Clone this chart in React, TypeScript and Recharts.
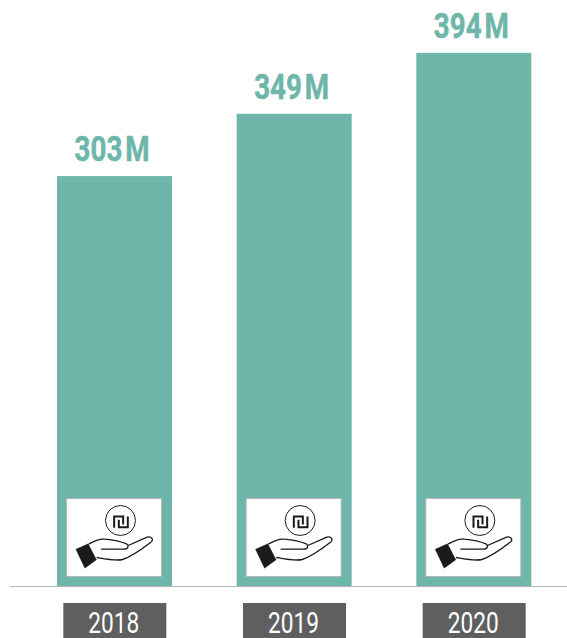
import React from 'react';
import { BarChart, Bar, XAxis, YAxis, LabelList, ReferenceLine } from 'recharts';

const years = ['2018', '2019', '2020'];
const amounts = [303, 349, 394];

const BAR_COLOR = '#6db6a9';
const data = years.map((year, i) => ({ year, amount: amounts[i] }));

// Bar with the hand and coin icon card at its foot
const BarWithIcon = (props: any) => {
  const { x, y, width, height } = props;
  const left = x + 9.5;
  const top = y + height - 88;
  return (
    <g>
      <rect x={x} y={y} width={width} height={height} fill={BAR_COLOR} />
      <rect x={left} y={top} width={95} height={78} fill="#fff" stroke="#b5b5b5" strokeWidth={1} />
      {/* drawn at 3x, then scaled down */}
      <g transform={`translate(${left},${top}) scale(0.3333) translate(-50,-56)`} fill="none" stroke="#1a1a1a">
        <circle cx={212} cy={122} r={45} strokeWidth={3} />
        <path d="M193 144 V110 H220 V134 M234 110 V142 H207 V120" strokeWidth={6} />
        <path d="M78 208 L115 192 L140 240 L105 265 Z" fill="#1a1a1a" />
        <path
          d="M118 192 C135 182 150 176 165 178 C185 180 215 186 230 192 C238 198 236 208 222 208 H155 M235 197 L292 172 C305 168 314 180 302 188 C280 205 240 232 218 239 C200 244 170 238 142 233"
          strokeWidth={4}
          strokeLinejoin="round"
          strokeLinecap="round"
        />
      </g>
    </g>
  );
};

const AmountLabel = (props: any) => {
  const { x, y, width, value } = props;
  return (
    <text
      x={x + width / 2 - 2.5}
      y={y - 15}
      textAnchor="middle"
      fill={BAR_COLOR}
      stroke={BAR_COLOR}
      strokeWidth={0.5}
      fontFamily="Roboto, sans-serif"
      fontWeight={700}
      fontSize={35}
      textLength={75}
      lengthAdjust="spacingAndGlyphs"
    >
      {`${value}\u200AM`}
    </text>
  );
};

const YearTick = (props: any) => {
  const { x, payload } = props;
  return (
    <g>
      <rect x={x - 51.5} y={603} width={103} height={35} fill="#5f5f5f" />
      <text
        x={x - 1}
        y={633}
        textAnchor="middle"
        fill="#fff"
        fontFamily="Roboto, sans-serif"
        fontSize={30}
        textLength={51}
        lengthAdjust="spacingAndGlyphs"
      >
        {payload.value}
      </text>
    </g>
  );
};

export default function App() {
  return (
    <div style={{ position: 'absolute', left: 0, top: 0, width: 567, height: 638, background: '#fff' }}>
      <BarChart
        width={567}
        height={638}
        data={data}
        margin={{ top: 0, right: 0, bottom: 0, left: 10 }}
        barCategoryGap={0}
      >
        <XAxis
          dataKey="year"
          height={51.5}
          interval={0}
          axisLine={false}
          tickLine={false}
          tick={<YearTick />}
          padding={{ left: 15, right: 3 }}
        />
        <YAxis hide domain={[0, 433]} />
        <ReferenceLine y={0} stroke="#b5b5b5" strokeWidth={1} />
        <Bar dataKey="amount" barSize={115} shape={<BarWithIcon />} isAnimationActive={false}>
          <LabelList dataKey="amount" content={<AmountLabel />} />
        </Bar>
      </BarChart>
    </div>
  );
}
